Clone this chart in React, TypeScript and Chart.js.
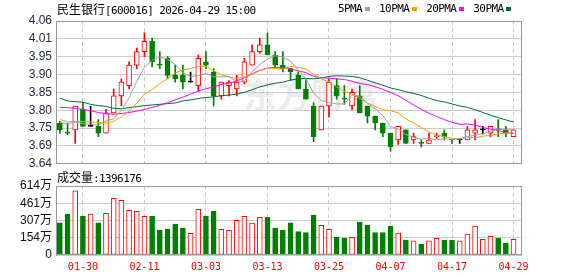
import React, { useEffect, useRef } from 'react';
import { Chart, registerables } from 'chart.js';

Chart.register(...registerables);

const stockName = '民生银行';
const stockCode = '[600016]';
const stamp = '2026-04-29 15:00';

const dates = ['01-27','01-28','01-29','01-30','02-02','02-03','02-04','02-05','02-06','02-09','02-10','02-11','02-12','02-13','02-24','02-25','02-26','02-27','03-02','03-03','03-04','03-05','03-06','03-09','03-10','03-11','03-12','03-13','03-16','03-17','03-18','03-19','03-20','03-23','03-24','03-25','03-26','03-27','03-30','03-31','04-01','04-02','04-03','04-07','04-08','04-09','04-10','04-13','04-14','04-15','04-16','04-17','04-20','04-21','04-22','04-23','04-24','04-27','04-28','04-29'];

const opens = [3.76,3.73,3.74,3.80,3.75,3.75,3.73,3.79,3.84,3.87,3.93,3.97,4.00,3.93,3.95,3.90,3.90,3.88,3.87,3.94,3.91,3.84,3.87,3.86,3.88,3.93,3.97,3.99,3.96,3.93,3.92,3.90,3.86,3.81,3.74,3.81,3.87,3.83,3.81,3.84,3.81,3.78,3.76,3.73,3.71,3.74,3.71,3.70,3.70,3.72,3.73,3.71,3.71,3.71,3.73,3.74,3.73,3.74,3.74,3.72];
const highs = [3.765,3.76,3.81,3.82,3.81,3.77,3.80,3.86,3.89,3.94,3.98,4.025,4.01,3.97,3.955,3.93,3.93,3.91,3.96,3.97,3.92,3.88,3.885,3.90,3.95,3.99,4.01,4.025,3.97,3.97,3.92,3.91,3.89,3.82,3.81,3.89,3.89,3.87,3.86,3.87,3.81,3.78,3.76,3.73,3.75,3.74,3.73,3.71,3.73,3.73,3.74,3.71,3.71,3.75,3.77,3.75,3.75,3.77,3.75,3.74];
const lows = [3.73,3.725,3.70,3.75,3.75,3.72,3.73,3.79,3.81,3.86,3.92,3.955,3.925,3.92,3.89,3.88,3.86,3.88,3.855,3.92,3.81,3.83,3.84,3.84,3.875,3.93,3.965,3.96,3.925,3.91,3.885,3.86,3.83,3.705,3.74,3.777,3.83,3.815,3.80,3.79,3.76,3.74,3.72,3.677,3.697,3.70,3.70,3.69,3.70,3.715,3.71,3.70,3.70,3.71,3.71,3.727,3.72,3.72,3.72,3.72];
const closes = [3.74,3.73,3.81,3.75,3.75,3.73,3.79,3.84,3.88,3.93,3.97,4.00,3.94,3.93,3.90,3.89,3.88,3.88,3.95,3.93,3.84,3.88,3.88,3.88,3.94,3.97,3.99,3.96,3.93,3.92,3.91,3.86,3.83,3.72,3.81,3.88,3.84,3.83,3.85,3.79,3.78,3.76,3.73,3.69,3.75,3.70,3.72,3.70,3.71,3.72,3.72,3.71,3.71,3.74,3.74,3.74,3.75,3.74,3.73,3.74];

// volume in 万 shares
const volumes = [287,365,570,347,365,287,371,504,487,398,389,344,347,222,231,276,240,193,407,347,389,228,220,309,344,285,335,335,240,222,287,208,199,356,264,228,160,151,157,294,267,199,199,258,196,133,125,98,125,148,133,133,125,187,258,139,166,151,107,139.6176];

const ma5 = [3.762,3.758,3.762,3.758,3.756,3.754,3.766,3.772,3.798,3.834,3.882,3.924,3.944,3.954,3.948,3.932,3.908,3.896,3.900,3.906,3.896,3.896,3.896,3.882,3.884,3.910,3.932,3.948,3.958,3.954,3.942,3.916,3.890,3.848,3.826,3.820,3.816,3.816,3.842,3.838,3.818,3.802,3.782,3.750,3.742,3.726,3.718,3.712,3.716,3.710,3.714,3.712,3.714,3.720,3.724,3.728,3.736,3.742,3.740,3.740];
const ma10 = [3.770,3.764,3.765,3.764,3.763,3.762,3.760,3.765,3.778,3.795,3.818,3.845,3.858,3.876,3.891,3.907,3.916,3.920,3.927,3.927,3.914,3.902,3.896,3.891,3.895,3.903,3.914,3.922,3.920,3.919,3.926,3.924,3.919,3.903,3.890,3.881,3.866,3.853,3.845,3.832,3.819,3.809,3.799,3.796,3.790,3.772,3.760,3.747,3.733,3.726,3.720,3.715,3.713,3.718,3.717,3.721,3.724,3.728,3.730,3.732];
const ma20 = [3.806,3.805,3.803,3.800,3.796,3.791,3.787,3.786,3.788,3.791,3.795,3.800,3.806,3.812,3.820,3.828,3.836,3.845,3.853,3.861,3.866,3.874,3.877,3.884,3.893,3.905,3.915,3.921,3.924,3.923,3.920,3.913,3.908,3.897,3.893,3.892,3.890,3.888,3.883,3.876,3.873,3.867,3.859,3.850,3.840,3.827,3.813,3.800,3.789,3.779,3.770,3.762,3.756,3.757,3.754,3.747,3.742,3.738,3.732,3.729];
const ma30 = [3.833,3.825,3.823,3.821,3.815,3.811,3.809,3.803,3.802,3.805,3.808,3.811,3.813,3.815,3.817,3.819,3.825,3.828,3.832,3.835,3.837,3.840,3.842,3.845,3.850,3.858,3.866,3.872,3.877,3.880,3.886,3.890,3.891,3.890,3.892,3.897,3.899,3.898,3.897,3.893,3.886,3.878,3.871,3.863,3.858,3.852,3.847,3.841,3.833,3.826,3.822,3.816,3.810,3.806,3.799,3.791,3.783,3.776,3.769,3.763];

const maNames = ['5PMA', '10PMA', '20PMA', '30PMA'];
const maColors = ['#a0a0a0', '#f5a000', '#ff00ff', '#006f35'];

const priceTickLabels = ['3.64','3.69','3.75','3.80','3.85','3.90','3.95','4.01','4.06'];
const priceMin = 3.64;
const priceMax = 4.06;
const volTickLabels = ['0','154万','307万','461万','614万'];
const volMax = 614;

const RED = '#ff0000';
const GREEN = '#008000';
const GRID = '#cccccc';
const FRAME = '#999999';
const LABEL_FONT = '"Liberation Sans", "Noto Sans CJK SC", sans-serif';
const MONO = '"DejaVu Sans Mono", monospace';
const CJK = '"Noto Sans CJK SC", sans-serif';

const framePlugin = {
  id: 'frame',
  afterDatasetsDraw(chart: any) {
    const { ctx, chartArea } = chart;
    ctx.save();
    ctx.strokeStyle = FRAME;
    ctx.lineWidth = 1;
    const l = Math.round(chartArea.left) + 0.5;
    const t = Math.round(chartArea.top) + 0.5;
    const r = Math.round(chartArea.right) - 0.5;
    const b = Math.round(chartArea.bottom) - 0.5;
    ctx.strokeRect(l, t, r - l, b - t);
    ctx.restore();
  },
};

const watermarkPlugin = {
  id: 'watermark',
  beforeDatasetsDraw(chart: any) {
    const { ctx, chartArea } = chart;
    ctx.save();
    ctx.fillStyle = 'rgba(200,200,210,0.35)';
    ctx.font = 'bold 34px "Noto Sans CJK SC"';
    ctx.textAlign = 'center';
    ctx.textBaseline = 'middle';
    ctx.fillText('东方财富', (chartArea.left + chartArea.right) / 2 + 22, chartArea.top + 74);
    ctx.restore();
  },
};

function xAxis(showLabels: boolean, n: number) {
  return {
    type: 'linear',
    min: -0.5,
    max: n + 0.1,
    offset: false,
    afterBuildTicks: (s: any) => {
      s.ticks = dates.map((_, i) => i).filter((i) => i % 8 === 3).map((v) => ({ value: v }));
    },
    afterFit: (s: any) => {
      s.height = showLabels ? 21 : 0;
    },
    grid: { color: GRID, lineWidth: 1, drawTicks: false, offset: false },
    border: { display: false, dash: [4, 3] },
    ticks: {
      display: showLabels,
      autoSkip: false,
      maxRotation: 0,
      padding: 6,
      color: RED,
      font: { family: MONO, size: 10 },
      callback: (v: any) => dates[v] ?? '',
    },
  };
}

export default function App() {
  const priceRef = useRef<HTMLCanvasElement>(null);
  const volRef = useRef<HTMLCanvasElement>(null);

  useEffect(() => {
    document.body.style.margin = '0';
    const n = closes.length;
    const idx = closes.map((_, i) => i);
    const dir = idx.map((i) => {
      if (closes[i] > opens[i]) return 1;
      if (closes[i] < opens[i]) return -1;
      if (i === 0) return 0;
      const d = Math.round((closes[i] - closes[i - 1]) * 1000);
      return d > 0 ? 1 : d < 0 ? -1 : 0;
    });
    const candleStroke = dir.map((d) => (d > 0 ? RED : d < 0 ? GREEN : '#000000'));
    const candleFill = dir.map((d) => (d > 0 ? '#ffffff' : d < 0 ? GREEN : '#000000'));

    const maSets = [ma5, ma10, ma20, ma30].map((arr, k) => ({
      type: 'line',
      label: maNames[k],
      data: arr.map((v, i) => ({ x: i, y: v })),
      borderColor: maColors[k],
      borderWidth: 1,
      pointRadius: 0,
      fill: false,
      tension: 0,
    }));

    const price = new Chart(priceRef.current!, {
      type: 'bar',
      data: {
        datasets: [
          ...maSets,
          {
            type: 'bar',
            label: 'body',
            data: idx.map((i) => ({ x: i, y: [opens[i], closes[i]] })),
            backgroundColor: candleFill,
            borderColor: candleStroke,
            borderWidth: 1,
            borderSkipped: false,
            barThickness: 5,
            minBarLength: 1,
            grouped: false,
          },
          {
            type: 'bar',
            label: 'wick',
            data: idx.map((i) => ({ x: i, y: [lows[i], highs[i]] })),
            backgroundColor: candleStroke,
            borderWidth: 0,
            barThickness: 1,
            grouped: false,
          },
        ] as any,
      },
      options: {
        responsive: false,
        animation: false,
        events: [],
        devicePixelRatio: 1,
        layout: { padding: { left: 0, right: 56, top: 21, bottom: 10 } },
        plugins: { legend: { display: false }, tooltip: { enabled: false } },
        scales: {
          x: xAxis(false, n) as any,
          y: {
            min: priceMin,
            max: priceMax,
            afterBuildTicks: (s: any) => {
              const k = priceTickLabels.length - 1;
              s.ticks = priceTickLabels.map((_, j) => ({ value: priceMin + ((priceMax - priceMin) * j) / k }));
            },
            afterFit: (s: any) => {
              s.width = 56;
            },
            grid: { color: GRID, drawTicks: false },
            border: { display: true, color: FRAME },
            ticks: {
              autoSkip: false,
              padding: 4,
              color: '#222a40',
              font: { family: LABEL_FONT, size: 12 },
              callback: (_v: any, j: number) => priceTickLabels[j],
            },
          },
        },
      },
      plugins: [watermarkPlugin, framePlugin],
    } as any);

    const volUp = dir.map((d) => d >= 0);
    const vol = new Chart(volRef.current!, {
      type: 'bar',
      data: {
        datasets: [
          {
            label: 'vol',
            data: idx.map((i) => ({ x: i, y: volumes[i] })),
            backgroundColor: volUp.map((u) => (u ? '#ffffff' : GREEN)),
            borderColor: volUp.map((u) => (u ? RED : GREEN)),
            borderWidth: 1,
            borderSkipped: false,
            barThickness: 5,
            grouped: false,
          },
        ] as any,
      },
      options: {
        responsive: false,
        animation: false,
        events: [],
        devicePixelRatio: 1,
        layout: { padding: { left: 0, right: 56, top: 16, bottom: 0 } },
        plugins: { legend: { display: false }, tooltip: { enabled: false } },
        scales: {
          x: xAxis(true, n) as any,
          y: {
            min: 0,
            max: volMax,
            afterBuildTicks: (s: any) => {
              const k = volTickLabels.length - 1;
              s.ticks = volTickLabels.map((_, j) => ({ value: (volMax * j) / k }));
            },
            afterFit: (s: any) => {
              s.width = 56;
            },
            grid: { color: GRID, drawTicks: false },
            border: { display: true, color: FRAME },
            ticks: {
              autoSkip: false,
              padding: 4,
              color: '#111111',
              font: { family: LABEL_FONT, size: 12 },
              callback: (_v: any, j: number) => volTickLabels[j],
            },
          },
        },
      },
      plugins: [framePlugin],
    } as any);

    return () => {
      price.destroy();
      vol.destroy();
    };
  }, []);

  const mono: React.CSSProperties = { fontFamily: MONO, fontSize: 11, letterSpacing: '-0.6px' };
  const cjk: React.CSSProperties = { fontFamily: CJK, fontSize: 12 };
  const lastVol = Math.round(volumes[volumes.length - 1] * 10000);

  return (
    <div style={{ position: 'relative', width: 578, height: 276, background: '#ffffff', overflow: 'hidden' }}>
      <canvas ref={priceRef} width={578} height={175} style={{ position: 'absolute', left: 0, top: 0 }} />
      <canvas ref={volRef} width={578} height={106} style={{ position: 'absolute', left: 0, top: 170 }} />
      <div style={{ position: 'absolute', left: 57, top: 0, lineHeight: '17px', color: '#000', whiteSpace: 'nowrap' }}>
        <span style={cjk}>{stockName}</span>
        <span style={mono}>{stockCode} {stamp}</span>
      </div>
      <div style={{ position: 'absolute', left: 338, top: 0, lineHeight: '17px', display: 'flex', alignItems: 'center', whiteSpace: 'nowrap' }}>
        {maNames.map((nm, k) => (
          <span key={nm} style={{ display: 'flex', alignItems: 'center', marginRight: 9 }}>
            <span style={{ ...mono, color: '#000' }}>{nm}</span>
            <span style={{ display: 'inline-block', width: 5, height: 4, marginLeft: 3, background: maColors[k] }} />
          </span>
        ))}
      </div>
      <div style={{ position: 'absolute', left: 57, top: 168, lineHeight: '17px', color: '#000', whiteSpace: 'nowrap' }}>
        <span style={cjk}>成交量</span>
        <span style={mono}>:{lastVol}</span>
      </div>
    </div>
  );
}
